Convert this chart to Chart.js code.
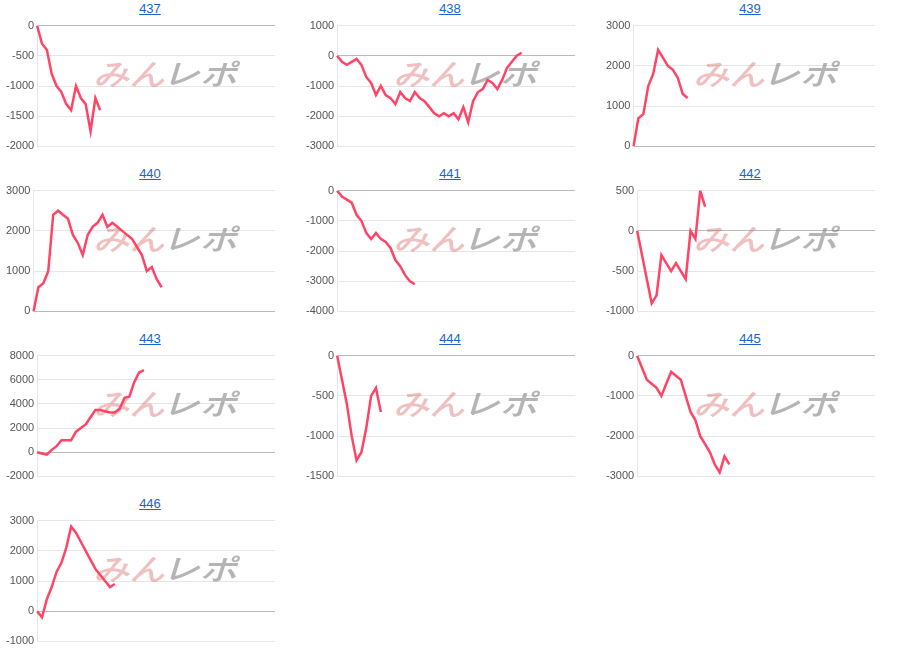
<!DOCTYPE html>
<html><head><meta charset="utf-8">
<script src="https://cdn.jsdelivr.net/npm/chart.js@4"></script>
<style>
body{margin:0;background:#fff;font-family:Arial,"Liberation Sans",sans-serif;}
.p{position:absolute;width:300px;height:165px;}
.t{position:absolute;top:1px;left:0;width:300px;text-align:center;font-size:13px;color:#1a66cc;text-decoration:underline;}
.c{position:absolute;top:16px;left:0;width:300px;height:140px;}
</style></head><body>
<script>
const titles=["437","438","439","440","441","442","443","444","445","446"];
const s437=[0,-300,-400,-800,-1000,-1100,-1300,-1400,-1000,-1200,-1300,-1750,-1200,-1400];
const s438=[0,-200,-300,-200,-100,-300,-700,-900,-1300,-1000,-1300,-1400,-1600,-1200,-1400,-1500,-1200,-1400,-1500,-1700,-1900,-2000,-1900,-2000,-1900,-2100,-1700,-2200,-1500,-1200,-1100,-800,-900,-1100,-800,-400,-200,0,100];
const s439=[0,700,800,1500,1800,2400,2200,2000,1900,1700,1300,1200];
const s440=[0,600,700,1000,2400,2500,2400,2300,1900,1700,1400,1900,2100,2200,2400,2100,2200,2100,2000,1900,1800,1600,1400,1000,1100,800,600];
const s441=[0,-200,-300,-400,-800,-1000,-1400,-1600,-1400,-1600,-1700,-1900,-2300,-2500,-2800,-3000,-3100];
const s442=[0,-300,-600,-900,-800,-300,-400,-500,-400,-500,-600,0,-100,500,300];
const s443=[0,-100,-200,200,500,1000,1000,1000,1700,2000,2300,2900,3500,3500,3400,3300,3300,3600,4500,4600,5800,6600,6800];
const s444=[0,-300,-600,-1000,-1300,-1200,-900,-500,-400,-700];
const s445=[0,-300,-600,-700,-800,-1000,-700,-400,-500,-600,-1000,-1400,-1600,-2000,-2200,-2400,-2700,-2900,-2500,-2700];
const s446=[0,-200,400,800,1300,1600,2100,2800,2600,2300,2000,1700,1400,1200,1000,800,900];
const series=[s437,s438,s439,s440,s441,s442,s443,s444,s445,s446];
const yMin=[-2000,-3000,0,0,-4000,-1000,-2000,-1500,-3000,-1000];
const yMax=[0,1000,3000,3000,0,500,8000,0,0,3000];
const yStep=[500,1000,1000,1000,1000,500,2000,500,1000,1000];
const labels=Array.from({length:50},(_,i)=>String(i+1));

const wm={id:'wm',beforeDatasetsDraw(ch){
  const c=ch.ctx;c.save();
  c.textBaseline='middle';
  c.font='italic 900 30px "DejaVu Sans",sans-serif';
  c.translate(95,60);c.scale(1.15,0.95);
  c.fillStyle='rgba(215,90,90,0.38)';c.fillText('みん',0,0);
  c.fillStyle='rgba(120,120,120,0.55)';c.fillText('レポ',62,0);
  c.restore();}};

titles.forEach((t,i)=>{
  const d=document.createElement('div');d.className='p';
  d.style.left=(300*(i%3))+'px';d.style.top=(165*Math.floor(i/3))+'px';
  d.innerHTML='<div class="t">'+t+'</div><div class="c"><canvas></canvas></div>';
  document.body.appendChild(d);
  new Chart(d.querySelector('canvas'),{type:'line',
    data:{labels:labels,datasets:[{data:series[i],borderColor:'#ff4466',borderWidth:2.5,pointRadius:0,fill:false,tension:0}]},
    options:{animation:false,responsive:true,maintainAspectRatio:false,
      layout:{padding:{top:4,right:25,bottom:5,left:3}},
      plugins:{legend:{display:false},tooltip:{enabled:false}},
      scales:{x:{display:false},
        y:{min:yMin[i],max:yMax[i],ticks:{stepSize:yStep[i],color:'#555',font:{size:11},callback:v=>String(v)},
          border:{display:true,color:'#e6e6e6'},
          grid:{color:c=>c.tick&&c.tick.value===0?'#bbb':'#e6e6e6',drawTicks:false}}}},
    plugins:[wm]});
});
</script></body></html>
